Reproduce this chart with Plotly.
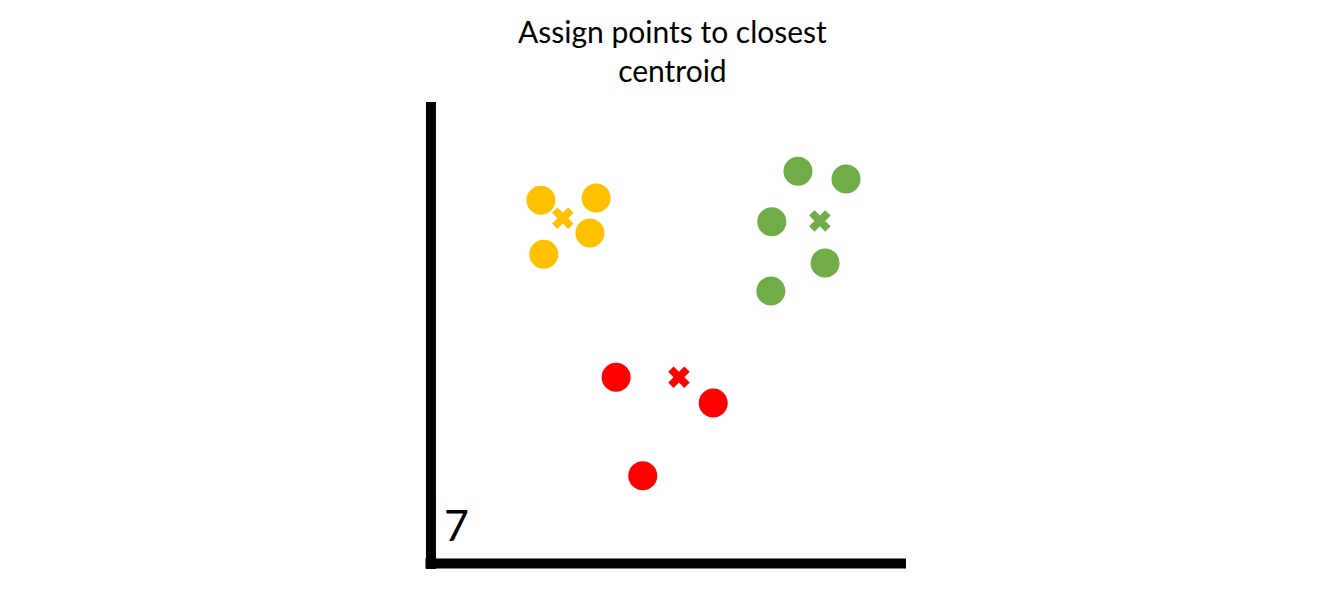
import plotly.graph_objects as go

# Cluster points (arbitrary units, 0-10 on each axis)
yellow_x = [2.33, 3.49, 3.36, 2.39]
yellow_y = [7.87, 7.92, 7.16, 6.70]
green_x = [7.73, 8.74, 7.18, 8.30, 7.16]
green_y = [8.50, 8.33, 7.40, 6.51, 5.90]
red_x = [3.91, 5.95, 4.47]
red_y = [4.03, 3.47, 1.89]

# Centroids
centroid_x = [2.79, 8.19, 5.23]
centroid_y = [7.48, 7.42, 4.03]

colors = ["#FFC000", "#70AD47", "#FF0000"]

title_text = "Assign points to closest<br>centroid"
step_label = "7"

fig = go.Figure()
for xs, ys, c in [(yellow_x, yellow_y, colors[0]),
                  (green_x, green_y, colors[1]),
                  (red_x, red_y, colors[2])]:
    fig.add_trace(go.Scatter(x=xs, y=ys, mode="markers",
                             marker=dict(size=29, color=c, line=dict(width=0)),
                             hoverinfo="skip", showlegend=False))

fig.add_trace(go.Scatter(x=centroid_x, y=centroid_y, mode="markers",
                         marker=dict(symbol="x", size=19, color=colors,
                                     line=dict(width=0)),
                         hoverinfo="skip", showlegend=False))

fig.update_layout(
    width=1316, height=597,
    margin=dict(l=422, r=418, t=94, b=42),
    paper_bgcolor="white", plot_bgcolor="white",
    xaxis=dict(range=[0, 10], visible=False, fixedrange=True),
    yaxis=dict(range=[0, 10], visible=False, fixedrange=True),
    font=dict(family="Lato, Open Sans, sans-serif", color="black"),
    shapes=[
        dict(type="line", xref="paper", yref="paper", x0=0.002, x1=0.002,
             y0=-0.013, y1=1, line=dict(color="black", width=10)),
        dict(type="line", xref="paper", yref="paper", x0=-0.0095, x1=1,
             y0=-0.001, y1=-0.001, line=dict(color="black", width=10)),
    ],
    annotations=[
        dict(text=title_text, xref="paper", yref="paper", x=0.51, y=1,
             yshift=91, xanchor="center", yanchor="top", showarrow=False,
             font=dict(size=30, family="Lato, Open Sans, sans-serif", color="black")),
        dict(text=step_label, xref="paper", yref="paper", x=0.026, y=0.0,
             yshift=11, xanchor="left", yanchor="bottom", showarrow=False,
             font=dict(size=43, family="Lato, Open Sans, sans-serif", color="black")),
    ],
)

fig.write_html("out.html")
